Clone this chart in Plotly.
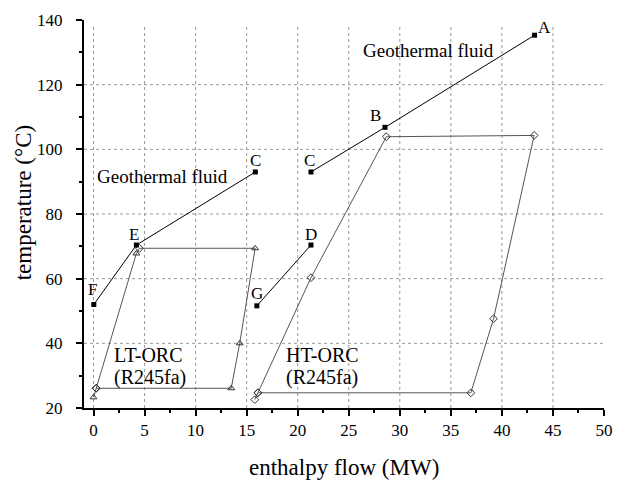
import plotly.graph_objects as go

# Geothermal fluid, high-temperature branch (A -> B -> C)
ht_fluid_x = [43.2, 28.55, 21.3]
ht_fluid_y = [135.3, 106.8, 93.0]
ht_fluid_lbl = ["A", "B", "C"]

# Geothermal fluid, low-temperature branch (C -> E -> F)
lt_fluid_x = [15.85, 4.2, 0.03]
lt_fluid_y = [93.0, 70.4, 52.0]
lt_fluid_lbl = ["C", "E", "F"]

# Geothermal fluid, G -> D
gd_fluid_x = [16.0, 21.3]
gd_fluid_y = [51.6, 70.4]
gd_fluid_lbl = ["G", "D"]

# LT-ORC (R245fa) cycle
lt_orc_x = [0.0, 0.26, 4.2, 4.5, 15.83, 14.32, 13.49, 0.26]
lt_orc_y = [23.3, 26.1, 67.8, 69.4, 69.4, 40.0, 26.1, 26.1]
lt_orc_sym = ["triangle-up-open", "diamond-open", "triangle-up-open", "diamond-open",
              "triangle-up-open", "triangle-up-open", "triangle-up-open", "diamond-open"]

# HT-ORC (R245fa) cycle
ht_orc_x = [15.8, 16.1, 21.3, 28.68, 43.16, 39.18, 36.96, 16.1]
ht_orc_y = [22.6, 24.7, 60.3, 103.9, 104.3, 47.6, 24.7, 24.7]

x_major = [0, 5, 10, 15, 20, 25, 30, 35, 40, 45, 50]
y_major = [20, 40, 60, 80, 100, 120, 140]

FONT = "Liberation Serif, Times New Roman, serif"

fig = go.Figure()

# dashed grid (no line along the top edge)
for xv in x_major[:-1]:
    fig.add_shape(type="line", xref="x", yref="paper", x0=xv, x1=xv, y0=0, y1=0.99,
                  line=dict(color="#999999", width=1, dash="3px,3px"), layer="below")
for yv in y_major[1:-1]:
    fig.add_shape(type="line", xref="paper", yref="y", x0=0, x1=1, y0=yv, y1=yv,
                  line=dict(color="#999999", width=1, dash="3px,3px"), layer="below")

cycle_line = dict(color="#555555", width=1)
fig.add_trace(go.Scatter(x=lt_orc_x, y=lt_orc_y, mode="lines+markers", line=cycle_line,
                         marker=dict(symbol=lt_orc_sym, size=6, color="#333333",
                                     line=dict(width=1, color="#333333")),
                         showlegend=False))
fig.add_trace(go.Scatter(x=ht_orc_x, y=ht_orc_y, mode="lines+markers", line=cycle_line,
                         marker=dict(symbol="diamond-open", size=6, color="#333333",
                                     line=dict(width=1, color="#333333")),
                         showlegend=False))

for xs, ys, lbls in [(ht_fluid_x, ht_fluid_y, ht_fluid_lbl),
                     (lt_fluid_x, lt_fluid_y, lt_fluid_lbl),
                     (gd_fluid_x, gd_fluid_y, gd_fluid_lbl)]:
    fig.add_trace(go.Scatter(x=xs, y=ys, mode="lines+markers",
                             line=dict(color="black", width=1),
                             marker=dict(symbol="square", size=5, color="black"),
                             showlegend=False))

# point letters, offset from their points in pixels (dx right, dy up)
letter_offsets = [
    (ht_fluid_x, ht_fluid_y, ht_fluid_lbl, [(10, 8), (-9, 12), (-1, 11)]),
    (lt_fluid_x, lt_fluid_y, lt_fluid_lbl, [(0, 11), (-2, 11), (-1, 15)]),
    (gd_fluid_x, gd_fluid_y, gd_fluid_lbl, [(0, 12), (0, 11)]),
]
for xs, ys, lbls, offs in letter_offsets:
    for xv, yv, lb, (dx, dy) in zip(xs, ys, lbls, offs):
        fig.add_annotation(x=xv, y=yv, text=lb, showarrow=False, xshift=dx, yshift=dy,
                           font=dict(family=FONT, size=17, color="black"))

geo = dict(family=FONT, size=19, color="black")
orc = dict(family=FONT, size=20, color="black")
fig.add_annotation(x=32.85, y=130.6, text="Geothermal fluid", showarrow=False, font=geo)
fig.add_annotation(x=6.75, y=91.7, text="Geothermal fluid", showarrow=False, font=geo)
for x_left, name in [(1.86, "LT-ORC"), (18.7, "HT-ORC")]:
    fig.add_annotation(x=x_left, y=36.3, text=name, showarrow=False, font=orc,
                       xanchor="left")
    fig.add_annotation(x=x_left, y=29.3, text="(R245fa)", showarrow=False, font=orc,
                       xanchor="left")

# axis titles
title_font = dict(family=FONT, size=23, color="black")
fig.add_annotation(xref="paper", yref="paper", x=0.5, y=-0.153, text="enthalpy flow (MW)",
                   showarrow=False, font=title_font, yanchor="middle")
fig.add_annotation(xref="paper", yref="paper", x=-0.117, y=0.528, text="temperature (°C)",
                   showarrow=False, font=title_font, textangle=-90, xanchor="center",
                   yanchor="middle")

axis_common = dict(showgrid=False, zeroline=False, showline=True, linecolor="black",
                   linewidth=2, ticks="outside", ticklen=6, tickwidth=1.5, tickcolor="black",
                   tickfont=dict(family=FONT, size=17, color="black"), mirror=False)

fig.update_xaxes(range=[-0.93, 50], tickvals=x_major,
                 minor=dict(dtick=2.5, tick0=0, ticks="outside", ticklen=3, tickwidth=1.5,
                            tickcolor="black", showgrid=False),
                 **axis_common)
fig.update_yaxes(range=[20, 140], tickvals=y_major, ticklabelstandoff=10,
                 minor=dict(dtick=10, tick0=0, ticks="outside", ticklen=3, tickwidth=1.5,
                            tickcolor="black", showgrid=False),
                 **axis_common)

fig.update_layout(width=624, height=481, margin=dict(l=84, r=11, t=16, b=73),
                  plot_bgcolor="white", paper_bgcolor="white")

fig.write_html("out.html")
